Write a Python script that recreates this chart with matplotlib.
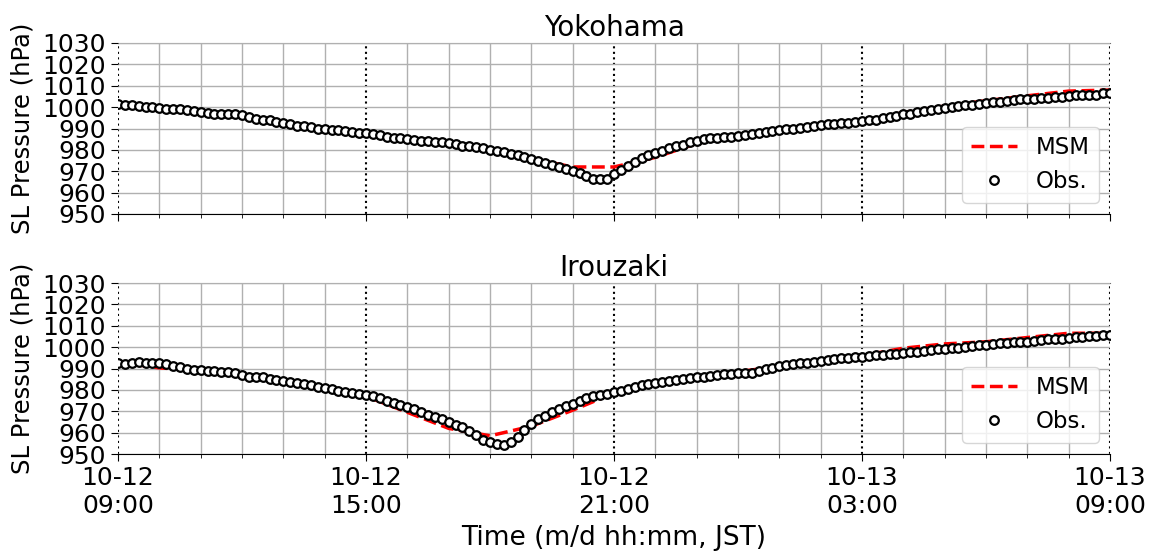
import datetime as dt
import matplotlib
matplotlib.use("Agg")
import matplotlib.pyplot as plt
import matplotlib.dates as mdates

# ---------------- data ----------------
start = dt.datetime(2019, 10, 12, 9, 0)
obs_times = [start + dt.timedelta(minutes=10 * i) for i in range(145)]
msm_times = [start + dt.timedelta(hours=i) for i in range(25)]

yokohama_obs = [
    1001.4, 1001.1, 1001.1, 1000.6, 1000.2, 1000.0,   # 09
    999.8, 999.2, 999.1, 998.9, 998.6, 998.1,         # 10
    997.8, 997.4, 997.0, 996.9, 996.7, 996.6,         # 11
    996.1, 995.5, 994.4, 993.9, 993.8, 993.1,         # 12
    992.5, 991.9, 991.4, 991.1, 990.8, 990.0,         # 13
    989.6, 989.4, 989.3, 988.8, 988.3, 988.0,         # 14
    987.7, 987.2, 986.9, 986.1, 985.7, 985.4,         # 15
    984.9, 984.4, 984.1, 984.0, 983.8, 983.5,         # 16
    983.3, 982.6, 981.9, 981.8, 981.5, 981.0,         # 17
    979.9, 979.4, 979.0, 978.2, 977.5, 976.7,         # 18
    975.6, 974.6, 973.9, 973.1, 972.1, 971.0,         # 19
    970.0, 969.0, 967.8, 966.6, 966.2, 966.4,         # 20
    968.6, 970.4, 972.3, 974.2, 976.2, 977.5,         # 21
    978.6, 979.7, 980.7, 981.6, 982.4, 983.5,         # 22
    984.2, 984.9, 985.4, 985.7, 985.8, 986.1,         # 23
    986.4, 986.9, 987.2, 987.7, 988.2, 988.9,         # 00
    989.3, 989.6, 989.9, 990.3, 990.8, 991.3,         # 01
    991.6, 991.9, 992.1, 992.4, 992.7, 993.1,         # 02
    993.6, 993.9, 994.2, 994.7, 995.2, 995.8,         # 03
    996.6, 997.0, 997.5, 998.1, 998.6, 999.1,         # 04
    999.7, 1000.2, 1000.5, 1000.8, 1001.1, 1001.4,    # 05
    1001.7, 1002.2, 1002.5, 1002.8, 1003.3, 1003.6,   # 06
    1003.7, 1004.0, 1004.4, 1004.5, 1004.8, 1004.8,   # 07
    1005.1, 1005.5, 1005.6, 1005.8, 1005.9, 1006.4,   # 08
    1006.7,                                           # 09
]

irouzaki_obs = [
    992.6, 992.0, 992.6, 993.1, 992.8, 992.6,         # 09
    992.7, 992.0, 991.2, 990.6, 990.0, 989.3,         # 10
    989.3, 988.9, 988.8, 988.2, 988.2, 987.7,         # 11
    986.9, 986.1, 985.8, 985.8, 985.0, 984.6,         # 12
    984.1, 983.8, 983.0, 982.7, 982.1, 981.5,         # 13
    981.0, 980.4, 979.7, 979.0, 978.4, 978.0,         # 14
    977.6, 977.0, 976.0, 974.9, 974.0, 972.8,         # 15
    971.8, 970.9, 969.7, 968.4, 967.4, 966.4,         # 16
    965.1, 963.8, 962.5, 960.7, 958.8, 956.7,         # 17
    955.8, 954.6, 954.2, 955.4, 958.1, 961.2,         # 18
    964.0, 966.2, 968.0, 969.8, 971.1, 972.3,         # 19
    973.5, 974.7, 976.0, 977.2, 977.8, 978.3,         # 20
    978.8, 979.6, 980.4, 981.2, 982.1, 982.9,         # 21
    983.4, 983.8, 984.3, 984.6, 984.9, 985.4,         # 22
    985.8, 986.1, 986.4, 986.9, 987.2, 987.4,         # 23
    987.7, 987.7, 988.0, 988.9, 989.6, 990.4,         # 00
    991.0, 991.6, 992.1, 992.4, 992.7, 993.0,         # 01
    993.5, 993.9, 994.4, 994.7, 995.1, 995.3,         # 02
    995.6, 995.8, 996.1, 996.3, 996.6, 997.0,         # 03
    997.4, 997.5, 997.8, 998.1, 998.6, 998.9,         # 04
    999.2, 999.4, 999.8, 1000.2, 1000.5, 1000.8,      # 05
    1000.9, 1001.4, 1001.7, 1002.0, 1002.2, 1002.3,   # 06
    1002.5, 1003.0, 1003.3, 1003.6, 1003.9, 1004.0,   # 07
    1004.4, 1004.7, 1004.8, 1005.0, 1005.3, 1005.6,   # 08
    1005.9,                                           # 09
]

yokohama_msm = [1001.0, 999.0, 997.5, 995.5, 992.5, 990.0, 988.0, 985.5, 983.0,
                980.0, 976.0, 972.0, 972.0, 976.5, 983.0, 987.0, 989.5, 991.5,
                993.5, 997.5, 1000.5, 1003.0, 1005.3, 1007.5, 1008.0]

irouzaki_msm = [993.0, 990.3, 989.0, 986.5, 984.0, 981.0, 977.0, 969.5, 962.0,
                958.5, 963.0, 970.5, 978.5, 983.0, 985.5, 988.5, 991.0, 993.5,
                996.0, 999.5, 1001.5, 1002.5, 1004.5, 1006.5, 1006.5]

stations = ["Yokohama", "Irouzaki"]
y_ticks = [950, 960, 970, 980, 990, 1000, 1010, 1020, 1030]

# ---------------- plot ----------------
plt.rcParams["font.family"] = "DejaVu Sans"
plt.rcParams["font.size"] = 18

fig = plt.figure(figsize=(11.56, 5.56), dpi=100)
W, H = 1156, 556
left, right = 118, 1110
panels = [(43, 214), (283, 454)]

series = [(yokohama_msm, yokohama_obs), (irouzaki_msm, irouzaki_obs)]
for k, (top, bot) in enumerate(panels):
    ax = fig.add_axes([left / W, 1 - bot / H, (right - left) / W, (bot - top) / H])
    msm, obs = series[k]
    ax.plot(msm_times, msm, ls="--", color="red", lw=2.5, label="MSM", zorder=3)
    ax.plot(obs_times, obs, ls="none", marker="o", ms=6.2, mfc="white",
            mec="black", mew=1.6, label="Obs.", zorder=4)

    ax.set_xlim(obs_times[0], obs_times[-1])
    ax.set_ylim(950, 1030)
    ax.set_yticks(y_ticks)
    ax.xaxis.set_major_locator(mdates.HourLocator(byhour=[3, 9, 15, 21]))
    ax.xaxis.set_minor_locator(mdates.HourLocator())
    ax.xaxis.set_major_formatter(mdates.DateFormatter("%m-%d\n%H:%M"))

    ax.set_axisbelow(False)
    ax.grid(which="minor", axis="x", color="#b0b0b0", lw=1.0, zorder=1)
    ax.grid(which="major", axis="y", color="#b0b0b0", lw=1.0, zorder=1)
    ax.grid(which="major", axis="x", color="black", ls=":", lw=1.5, zorder=2)

    ax.spines["left"].set_visible(False)
    ax.spines["right"].set_visible(False)
    ax.spines["top"].set_color("#707070")

    ax.tick_params(which="major", length=5, labelsize=18)
    ax.tick_params(which="minor", length=3)
    ax.set_title(stations[k], fontsize=20, pad=5)
    ax.set_ylabel("SL Pressure (hPa)", fontsize=17.5, labelpad=6)
    ax.legend(loc="lower right", numpoints=1, fontsize=16.5)
    if k == 0:
        ax.tick_params(axis="x", labelbottom=False)
    else:
        ax.set_xlabel("Time (m/d hh:mm, JST)", fontsize=19, labelpad=5)

fig.savefig("out.png", dpi=100)
